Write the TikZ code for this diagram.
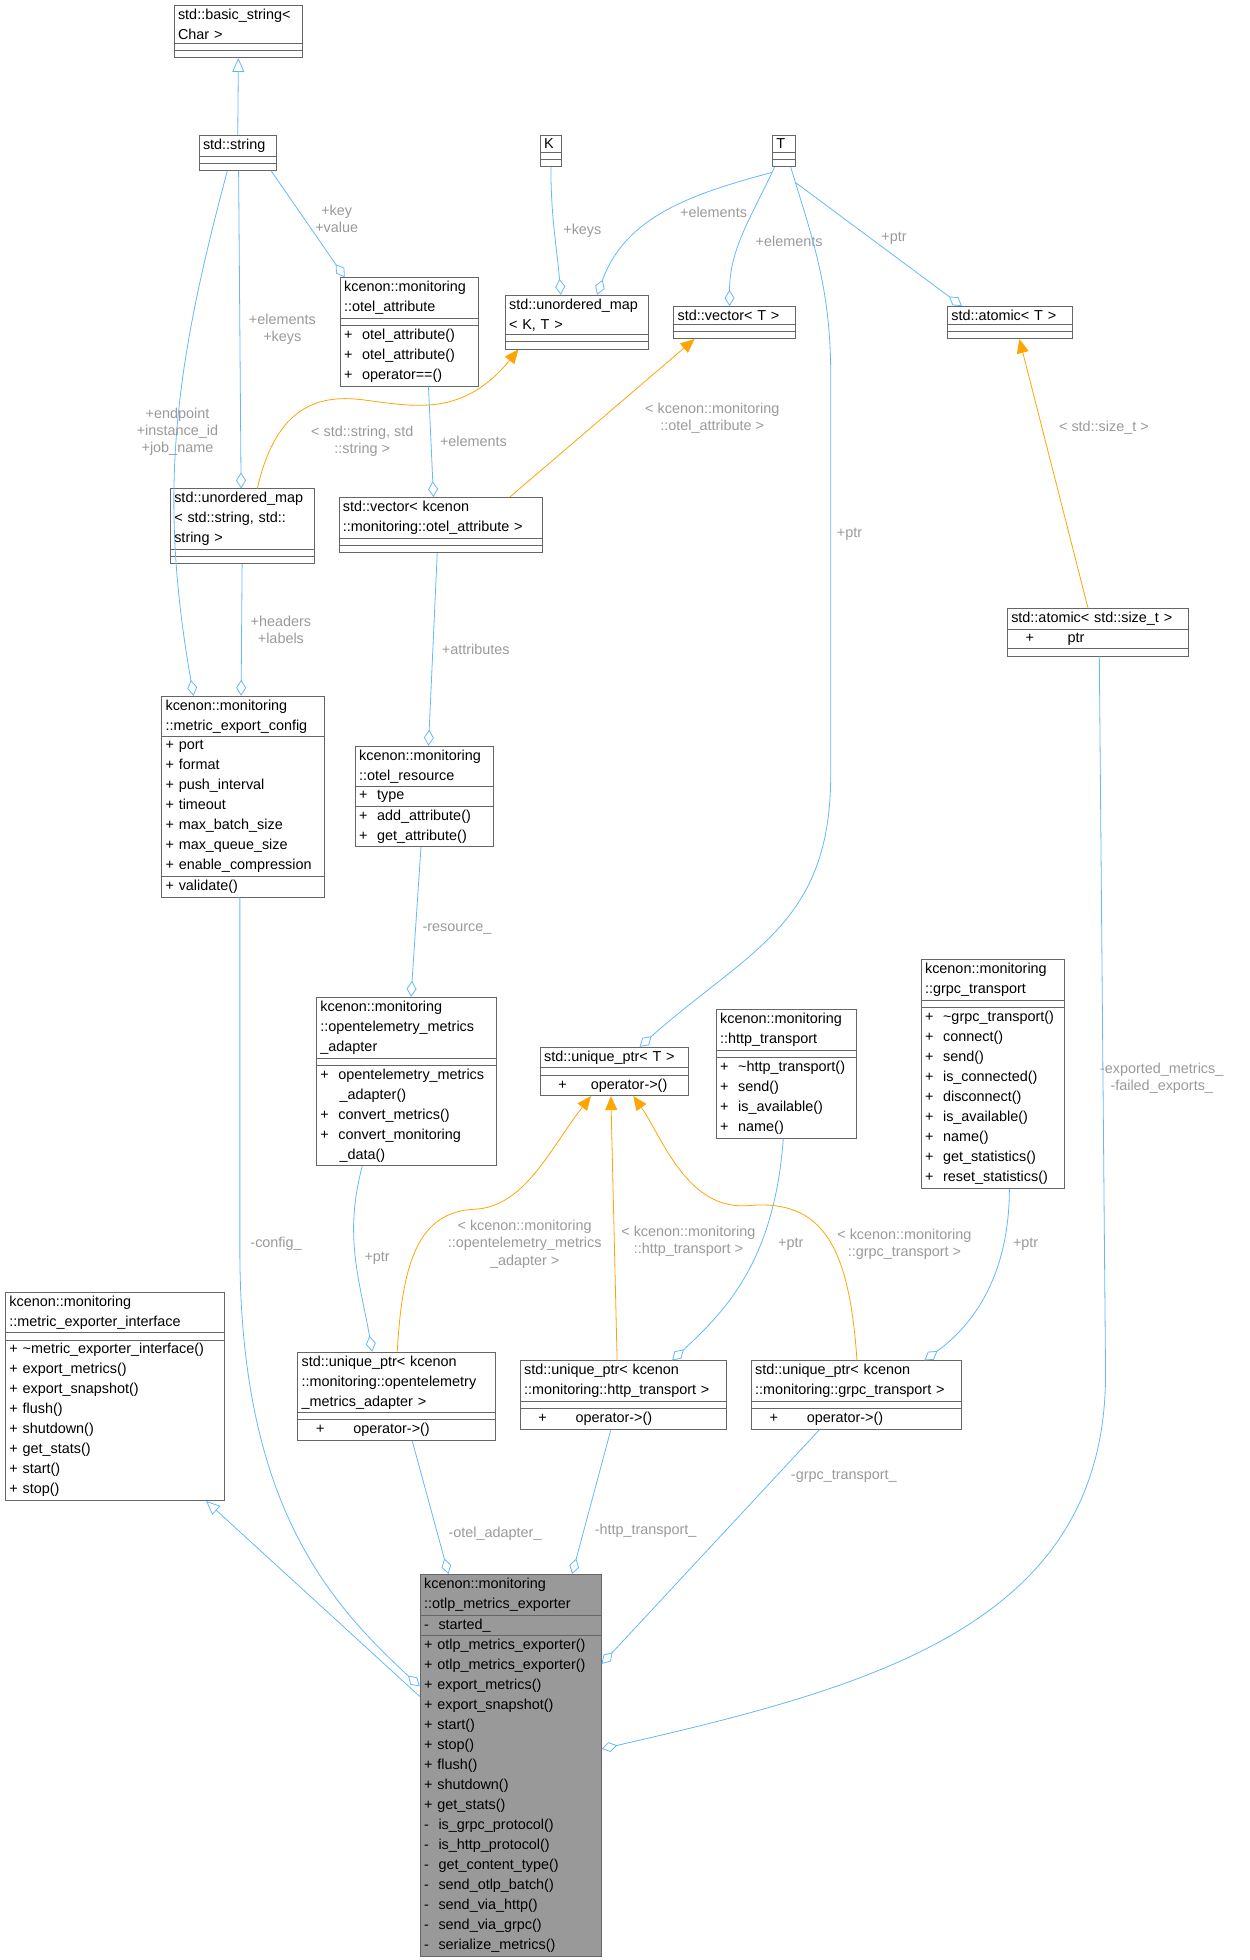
\documentclass[tikz,border=0pt]{standalone}
\usepackage{fontspec}
\setmainfont{Liberation Sans}
\usetikzlibrary{shapes.multipart,arrows.meta,calc}

\definecolor{edgeblue}{HTML}{63B8FF}
\definecolor{tmplorange}{HTML}{FFA500}
\definecolor{lblgray}{HTML}{9A9A9A}
\definecolor{boxgray}{HTML}{999999}

\tikzset{
  cls/.style={draw=black!60, rectangle split, rectangle split parts=3,
    rectangle split ignore empty parts=false,
    rectangle split empty part height=6.5pt,
    rectangle split part align={center,left,left},
    align=left, anchor=north west, inner xsep=2pt, inner ysep=1.6pt,
    font=\fontsize{7.2}{10}\selectfont},
  agg/.style={draw=edgeblue, {Diamond[open,length=8pt,width=5pt]}-},
  inh/.style={draw=edgeblue, -{Triangle[open,length=7pt,width=6pt]}},
  tmpl/.style={draw=tmplorange, -{Triangle[length=7pt,width=6pt]}, fill=none},
  lbl/.style={text=lblgray, align=center, font=\fontsize{7.2}{8.6}\selectfont}
}

% #2 name, #3 x,y, #4 width, #5 title, #6 attributes, #7 methods
\newcommand{\umlbox}[7][]{%
  \node[cls, text width=\dimexpr0.6245pt*#4-4pt\relax, #1] (#2) at (#3) {#5\nodepart{two}#6\nodepart{three}#7};}

\begin{document}
\begin{tikzpicture}[x=0.6245pt, y=-0.6245pt]
 \useasboundingbox (0,0) rectangle (1000,1569);

 % classes
 \umlbox{basicstr}{139,4}{103}{std::basic\_string\textless\\Char \textgreater}{}{}
 \umlbox{string}{159,108}{62}{std::string}{}{}
 \umlbox{K}{432,108}{17}{K}{}{}
 \umlbox{T}{618,108}{18}{T}{}{}
 \umlbox{otelattr}{272,222}{111}{kcenon::monitoring\\::otel\_attribute}{}{+\ \ otel\_attribute()\\+\ \ otel\_attribute()\\+\ \ operator==()}
 \umlbox{umapKT}{404,236}{115}{std::unordered\_map\\\textless\ K, T \textgreater}{}{}
 \umlbox{vecT}{539,245}{97}{std::vector\textless\ T \textgreater}{}{}
 \umlbox{atomicT}{758,245}{100}{std::atomic\textless\ T \textgreater}{}{}
 \umlbox{umapstr}{136,391}{115}{std::unordered\_map\\\textless\ std::string, std::\\string \textgreater}{}{}
 \umlbox{vecattr}{271,398}{163}{std::vector\textless\ kcenon\\::monitoring::otel\_attribute \textgreater}{}{}
 \umlbox{atomicsz}{806,487}{145}{std::atomic\textless\ std::size\_t \textgreater}{\quad+\qquad\ ptr}{}
 \umlbox{config}{129,557}{130}{kcenon::monitoring\\::metric\_export\_config}{+\ port\\+\ format\\+\ push\_interval\\+\ timeout\\+\ max\_batch\_size\\+\ max\_queue\_size\\+\ enable\_compression}{+\ validate()}
 \umlbox{resource}{284,597}{111}{kcenon::monitoring\\::otel\_resource}{+\ \ type}{+\ \ add\_attribute()\\+\ \ get\_attribute()}
 \umlbox{adapter}{253,798}{144}{kcenon::monitoring\\::opentelemetry\_metrics\\\_adapter}{}{+\ \ opentelemetry\_metrics\\\ \ \ \ \_adapter()\\+\ \ convert\_metrics()\\+\ \ convert\_monitoring\\\ \ \ \ \_data()}
 \umlbox{uniqT}{432,838}{119}{std::unique\_ptr\textless\ T \textgreater}{}{\quad+\quad\ \ operator-\textgreater()}
 \umlbox{http}{573,808}{112}{kcenon::monitoring\\::http\_transport}{}{+\ \ \textasciitilde http\_transport()\\+\ \ send()\\+\ \ is\_available()\\+\ \ name()}
 \umlbox{grpc}{737,768}{115}{kcenon::monitoring\\::grpc\_transport}{}{+\ \ \textasciitilde grpc\_transport()\\+\ \ connect()\\+\ \ send()\\+\ \ is\_connected()\\+\ \ disconnect()\\+\ \ is\_available()\\+\ \ name()\\+\ \ get\_statistics()\\+\ \ reset\_statistics()}
 \umlbox{iface}{4,1034}{175}{kcenon::monitoring\\::metric\_exporter\_interface}{}{+\ \textasciitilde metric\_exporter\_interface()\\+\ export\_metrics()\\+\ export\_snapshot()\\+\ flush()\\+\ shutdown()\\+\ get\_stats()\\+\ start()\\+\ stop()}
 \umlbox{uadapter}{238,1082}{158}{std::unique\_ptr\textless\ kcenon\\::monitoring::opentelemetry\\\_metrics\_adapter \textgreater}{}{\quad+\qquad operator-\textgreater()}
 \umlbox{uhttp}{416,1089}{165}{std::unique\_ptr\textless\ kcenon\\::monitoring::http\_transport \textgreater}{}{\quad+\qquad operator-\textgreater()}
 \umlbox{ugrpc}{601,1089}{168}{std::unique\_ptr\textless\ kcenon\\::monitoring::grpc\_transport \textgreater}{}{\quad+\qquad operator-\textgreater()}
 \umlbox[fill=boxgray]{exporter}{336,1260}{145}{kcenon::monitoring\\::otlp\_metrics\_exporter}{-\ \ started\_}{+\ otlp\_metrics\_exporter()\\+\ otlp\_metrics\_exporter()\\+\ export\_metrics()\\+\ export\_snapshot()\\+\ start()\\+\ stop()\\+\ flush()\\+\ shutdown()\\+\ get\_stats()\\-\ \ is\_grpc\_protocol()\\-\ \ is\_http\_protocol()\\-\ \ get\_content\_type()\\-\ \ send\_otlp\_batch()\\-\ \ send\_via\_http()\\-\ \ send\_via\_grpc()\\-\ \ serialize\_metrics()}

 % inheritance
 \draw[inh] (string.north) -- (basicstr.south);
 \draw[inh] ($(exporter.north west)+(0,98)$) -- ($(iface.south west)+(161,0)$);

 % members of std::string
 \draw[agg] ($(otelattr.north west)+(4,0)$) -- ($(string.south west)+(58,0)$)
   node[lbl, pos=0.55, right=2pt] {+key\\+value};
 \draw[agg] ($(umapstr.north west)+(57,0)$) -- ($(string.south west)+(32,0)$)
   node[lbl, pos=0.5, right=1pt] {+elements\\+keys};
 \draw[agg] ($(config.north west)+(26,0)$) to[out=100,in=-105]
   node[lbl, pos=0.5, left=-24pt] {+endpoint\\+instance\_id\\+job\_name}
   ($(string.south west)+(23,0)$);

 % members of K and T
 \draw[agg] ($(umapKT.north west)+(45,0)$) to[out=95,in=-90]
   node[lbl, pos=0.5, right=1pt] {+keys} ($(K.south west)+(9,0)$);
 \draw[agg] ($(umapKT.north west)+(74,0)$) to[out=70,in=195]
   node[lbl, pos=0.5, right=4pt] {+elements} ($(T.north west)+(0,30)$);
 \draw[agg] ($(vecT.north west)+(45,0)$) to[out=90,in=-115]
   node[lbl, pos=0.45, right=4pt] {+elements} ($(T.south west)+(2,0)$);
 \draw[agg] ($(atomicT.north west)+(12,0)$) --
   node[lbl, pos=0.55, right=2pt] {+ptr} ($(T.north east)+(0,38)$);
 \draw[agg] ($(uniqT.north west)+(80,0)$) .. controls (600,760) and (665,740) ..
   (665,620) -- (665,300) .. controls (665,230) and (650,190) ..
   ($(T.south west)+(15,0)$);
 \node[lbl] (tptr) at (680,428) {+ptr};

 % template instances
 \draw[tmpl] ($(umapstr.north west)+(70,0)$) .. controls (220,330) and (250,315) ..
   (290,320) .. controls (330,325) and (370,335) .. ($(umapKT.south west)+(11,0)$);
 \node[lbl] (tstr) at (290,353) {\textless\ std::string, std\\::string \textgreater};
 \draw[tmpl] ($(vecattr.north west)+(137,0)$) --
   node[lbl, pos=0.5, right=18pt] {\textless\ kcenon::monitoring\\::otel\_attribute \textgreater}
   ($(vecT.south west)+(17,0)$);
 \draw[tmpl] ($(atomicsz.north west)+(65,0)$) --
   node[lbl, pos=0.67, right=5pt] {\textless\ std::size\_t \textgreater}
   ($(atomicT.south west)+(58,0)$);

 % further members
 \draw[agg] ($(vecattr.north west)+(76,0)$) --
   node[lbl, pos=0.5, right=1pt] {+elements} ($(otelattr.south west)+(71,0)$);
 \draw[agg] ($(config.north west)+(64,0)$) --
   node[lbl, pos=0.5, right=1pt] {+headers\\+labels} (umapstr.south);
 \draw[agg] ($(resource.north west)+(59,0)$) --
   node[lbl, pos=0.5, right=1pt] {+attributes} ($(vecattr.south west)+(79,0)$);
 \draw[agg] ($(adapter.north west)+(76,0)$) --
   node[lbl, pos=0.45, right=0pt] {-resource\_} ($(resource.south west)+(53,0)$);

 % unique_ptr members
 \draw[agg] ($(uadapter.north west)+(60,0)$) to[out=100,in=-105]
   node[lbl, pos=0.5, right=1pt] {+ptr} ($(adapter.south west)+(37,0)$);
 \draw[agg] ($(uhttp.north west)+(122,0)$) .. controls (580,1050) and (620,1010) ..
   ($(http.south west)+(54,0)$);
 \node[lbl] (hptr) at (633,996) {+ptr};
 \draw[agg] ($(ugrpc.north west)+(139,0)$) .. controls (780,1060) and (808,1020) ..
   ($(grpc.south west)+(71,0)$);
 \node[lbl] (gptr) at (821,996) {+ptr};

 % unique_ptr template instances
 \draw[tmpl] ($(uadapter.north west)+(80,0)$) .. controls (322,1010) and (335,970) ..
   (380,968) .. controls (420,966) and (440,920) .. ($(uniqT.south west)+(41,0)$);
 \node[lbl] (tad) at (420,996) {\textless\ kcenon::monitoring\\::opentelemetry\_metrics\\\_adapter \textgreater};
 \draw[tmpl] ($(uhttp.north west)+(78,0)$) --
   node[lbl, pos=0.45, right=0pt] {\textless\ kcenon::monitoring\\::http\_transport \textgreater}
   ($(uniqT.south west)+(57,0)$);
 \draw[tmpl] ($(ugrpc.north west)+(85,0)$) .. controls (680,1000) and (660,960) ..
   (600,965) .. controls (550,970) and (530,910) .. ($(uniqT.south west)+(75,0)$);
 \node[lbl] (tgr) at (724,996) {\textless\ kcenon::monitoring\\::grpc\_transport \textgreater};

 % members of the exporter
 \draw[agg] ($(exporter.north west)+(23,0)$) --
   node[lbl, pos=0.3, right=2pt] {-otel\_adapter\_} ($(uadapter.south west)+(92,0)$);
 \draw[agg] ($(exporter.north west)+(122,0)$) --
   node[lbl, pos=0.3, right=2pt] {-http\_transport\_} ($(uhttp.south west)+(73,0)$);
 \draw[agg] ($(exporter.north east)+(0,72)$) --
   node[lbl, pos=0.8, right=4pt] {-grpc\_transport\_} ($(ugrpc.south west)+(55,0)$);
 \draw[agg] ($(exporter.north west)+(0,90)$) .. controls (260,1280) and (192,1200) ..
   (192,1000) -- ($(config.south west)+(63,0)$);
 \node[lbl] (cfg) at (221,996) {-config\_};
 \draw[agg] ($(exporter.north east)+(0,140)$) .. controls (700,1350) and (885,1300) ..
   (885,1100) -- ($(atomicsz.south west)+(74,0)$);
 \node[lbl] (exp) at (930,863) {-exported\_metrics\_\\-failed\_exports\_};
\end{tikzpicture}
\end{document}
